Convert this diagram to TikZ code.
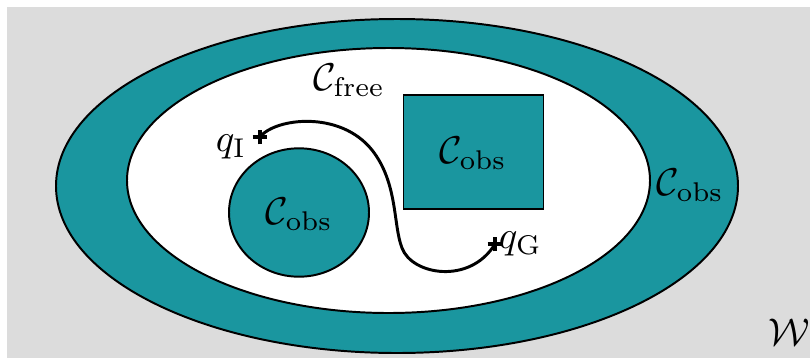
\documentclass[tikz,border=0pt]{standalone}
\begin{document}
\begin{tikzpicture}[x=0.025cm,y=-0.025cm,
  every node/.style={inner sep=0pt},
  obs/.style={fill=teal0,draw=black,line width=1.4pt},
  lbl/.style={scale=2.75},
  path/.style={line width=2.1pt,black},
  cross/.style={line width=2.5pt,black}]
\definecolor{teal0}{RGB}{26,150,159}
\definecolor{bg}{RGB}{220,220,220}
\useasboundingbox (0,0) rectangle (810,358);
% workspace
\fill[bg] (7,7) rectangle (810,358);
% outer obstacle region and free space
\draw[obs] (397,186) ellipse [x radius=341, y radius=167];
\draw[fill=white,draw=black,line width=1.4pt] (388.5,180.5) ellipse [x radius=261.5, y radius=132.5];
% obstacles inside free space
\draw[obs] (299,212.5) ellipse [x radius=70, y radius=64.2];
\draw[obs] (403.5,95) rectangle (543.5,209);
% labels
\node[lbl] (free) at (349,80) {$\mathcal{C}_{\mathrm{free}}$};
\node[lbl] (obsA) at (299,214) {$\mathcal{C}_{\mathrm{obs}}$};
\node[lbl] (obsB) at (473,153) {$\mathcal{C}_{\mathrm{obs}}$};
\node[lbl] (obsC) at (690,185) {$\mathcal{C}_{\mathrm{obs}}$};
\node[lbl] (W) at (789,332) {$\mathcal{W}$};
% start and goal
\coordinate (qI) at (260,137);
\coordinate (qG) at (495,244);
\draw[cross] ([xshift=-5.2pt]qI) -- ([xshift=5.2pt]qI) ([yshift=-5.2pt]qI) -- ([yshift=5.2pt]qI);
\draw[cross] ([xshift=-5.2pt]qG) -- ([xshift=5.2pt]qG) ([yshift=-5.2pt]qG) -- ([yshift=5.2pt]qG);
\node[lbl,anchor=east] (qIl) at (247,147) {$q_{\mathrm{I}}$};
\node[lbl,anchor=west] (qGl) at (498,244) {$q_{\mathrm{G}}$};
% path through free space
\draw[path] (qI) .. controls (275,118) and (340,110) .. (372,150)
  .. controls (398,183) and (393,225) .. (402,248)
  .. controls (412,275) and (470,285) .. (qG);
\end{tikzpicture}
\end{document}
